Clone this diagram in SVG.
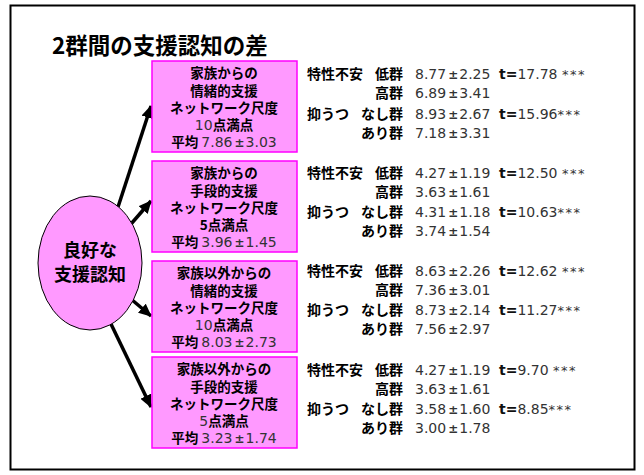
<svg xmlns="http://www.w3.org/2000/svg" width="644" height="475" viewBox="0 0 644 475">
<defs>
<style>
.jp{font-family:"Noto Sans CJK JP","Noto Sans CJK SC",sans-serif;font-weight:bold;fill:#000}
.bx{font-size:13.5px;text-anchor:middle}
.lb{font-size:14px}
.r{text-anchor:end}
.n{font-family:"DejaVu Sans","Liberation Sans",sans-serif;font-weight:normal;fill:#333;font-size:14px}
.pm{font-weight:bold;font-size:12px}
.t{font-family:"DejaVu Sans",sans-serif;font-weight:bold;fill:#111;font-size:14px}
.st{font-family:"DejaVu Sans",sans-serif;fill:#333;font-size:13px;letter-spacing:1.5px}
.box{fill:#FF99FF;stroke:#FF00FF;stroke-width:1.5}
.arr{stroke:#000;stroke-width:3.5;fill:none}
</style>
<marker id="ah" markerUnits="userSpaceOnUse" markerWidth="14" markerHeight="12" refX="12" refY="6" orient="auto">
<path d="M0,0 L13,6 L0,12 z" fill="#000"/>
</marker>
</defs>
<rect x="0" y="0" width="644" height="475" fill="#fff"/>
<rect x="10.5" y="5.5" width="624" height="464" fill="none" stroke="#000" stroke-width="2"/>
<text x="52" y="54" class="jp" font-size="22.5">2群間の支援認知の差</text>

<g id="connectors">
<line class="arr" x1="118" y1="207" x2="151" y2="106" marker-end="url(#ah)"/>
<line class="arr" x1="131" y1="224" x2="151" y2="201" marker-end="url(#ah)"/>
<line class="arr" x1="131" y1="299" x2="151" y2="316" marker-end="url(#ah)"/>
<line class="arr" x1="111" y1="324" x2="151" y2="407" marker-end="url(#ah)"/>
</g>

<g id="center">
<ellipse cx="90" cy="263" rx="52" ry="67" fill="#FF99FF" stroke="#000" stroke-width="1"/>
<text x="90" y="257" class="jp" font-size="18" text-anchor="middle">良好な</text>
<text x="90" y="281" class="jp" font-size="18" text-anchor="middle">支援認知</text>
</g>

<g id="box1">
<rect class="box" x="152" y="61" width="145" height="91"/>
<text class="jp bx" x="224" y="78">家族からの</text>
<text class="jp bx" x="224" y="96">情緒的支援</text>
<text class="jp bx" x="224" y="113">ネットワーク尺度</text>
<text class="jp bx" x="224" y="130"><tspan class="n">10</tspan>点満点</text>
<text class="jp bx" x="224" y="147">平均 <tspan class="n">7.86<tspan class="pm" dx="2">±</tspan><tspan dx="1">3.03</tspan></tspan></text>
</g>
<g id="stats1">
<text class="jp lb" x="307" y="79">特性不安</text>
<text class="jp lb r" x="403" y="79">低群</text>
<text class="n" x="415" y="79">8.77<tspan class="pm" dx="2">±</tspan><tspan dx="1">2.25</tspan></text>
<text x="499" y="79"><tspan class="t">t=</tspan><tspan class="n">17.78 </tspan><tspan class="st">***</tspan></text>
<text class="jp lb r" x="403" y="98">高群</text>
<text class="n" x="415" y="98">6.89<tspan class="pm" dx="2">±</tspan><tspan dx="1">3.41</tspan></text>
<text class="jp lb" x="307" y="119">抑うつ</text>
<text class="jp lb r" x="403" y="119">なし群</text>
<text class="n" x="415" y="119">8.93<tspan class="pm" dx="2">±</tspan><tspan dx="1">2.67</tspan></text>
<text x="499" y="119"><tspan class="t">t=</tspan><tspan class="n">15.96</tspan><tspan class="st">***</tspan></text>
<text class="jp lb r" x="403" y="138">あり群</text>
<text class="n" x="415" y="138">7.18<tspan class="pm" dx="2">±</tspan><tspan dx="1">3.31</tspan></text>
</g>

<g id="box2">
<rect class="box" x="152" y="161" width="145" height="91"/>
<text class="jp bx" x="224" y="178">家族からの</text>
<text class="jp bx" x="224" y="196">手段的支援</text>
<text class="jp bx" x="224" y="213">ネットワーク尺度</text>
<text class="jp bx" x="224" y="230">5点満点</text>
<text class="jp bx" x="224" y="247">平均 <tspan class="n">3.96<tspan class="pm" dx="2">±</tspan><tspan dx="1">1.45</tspan></tspan></text>
</g>
<g id="stats2">
<text class="jp lb" x="307" y="178">特性不安</text>
<text class="jp lb r" x="403" y="178">低群</text>
<text class="n" x="415" y="178">4.27<tspan class="pm" dx="2">±</tspan><tspan dx="1">1.19</tspan></text>
<text x="499" y="178"><tspan class="t">t=</tspan><tspan class="n">12.50 </tspan><tspan class="st">***</tspan></text>
<text class="jp lb r" x="403" y="197">高群</text>
<text class="n" x="415" y="197">3.63<tspan class="pm" dx="2">±</tspan><tspan dx="1">1.61</tspan></text>
<text class="jp lb" x="307" y="217">抑うつ</text>
<text class="jp lb r" x="403" y="217">なし群</text>
<text class="n" x="415" y="217">4.31<tspan class="pm" dx="2">±</tspan><tspan dx="1">1.18</tspan></text>
<text x="499" y="217"><tspan class="t">t=</tspan><tspan class="n">10.63</tspan><tspan class="st">***</tspan></text>
<text class="jp lb r" x="403" y="236">あり群</text>
<text class="n" x="415" y="236">3.74<tspan class="pm" dx="2">±</tspan><tspan dx="1">1.54</tspan></text>
</g>

<g id="box3">
<rect class="box" x="152" y="261" width="145" height="91"/>
<text class="jp bx" x="224" y="278">家族以外からの</text>
<text class="jp bx" x="224" y="296">情緒的支援</text>
<text class="jp bx" x="224" y="313">ネットワーク尺度</text>
<text class="jp bx" x="224" y="330"><tspan class="n">10</tspan>点満点</text>
<text class="jp bx" x="224" y="347">平均 <tspan class="n">8.03<tspan class="pm" dx="2">±</tspan><tspan dx="1">2.73</tspan></tspan></text>
</g>
<g id="stats3">
<text class="jp lb" x="307" y="276">特性不安</text>
<text class="jp lb r" x="403" y="276">低群</text>
<text class="n" x="415" y="276">8.63<tspan class="pm" dx="2">±</tspan><tspan dx="1">2.26</tspan></text>
<text x="499" y="276"><tspan class="t">t=</tspan><tspan class="n">12.62 </tspan><tspan class="st">***</tspan></text>
<text class="jp lb r" x="403" y="295">高群</text>
<text class="n" x="415" y="295">7.36<tspan class="pm" dx="2">±</tspan><tspan dx="1">3.01</tspan></text>
<text class="jp lb" x="307" y="315">抑うつ</text>
<text class="jp lb r" x="403" y="315">なし群</text>
<text class="n" x="415" y="315">8.73<tspan class="pm" dx="2">±</tspan><tspan dx="1">2.14</tspan></text>
<text x="499" y="315"><tspan class="t">t=</tspan><tspan class="n">11.27</tspan><tspan class="st">***</tspan></text>
<text class="jp lb r" x="403" y="334">あり群</text>
<text class="n" x="415" y="334">7.56<tspan class="pm" dx="2">±</tspan><tspan dx="1">2.97</tspan></text>
</g>

<g id="box4">
<rect class="box" x="152" y="357" width="145" height="91"/>
<text class="jp bx" x="224" y="374">家族以外からの</text>
<text class="jp bx" x="224" y="392">手段的支援</text>
<text class="jp bx" x="224" y="409">ネットワーク尺度</text>
<text class="jp bx" x="224" y="426"><tspan class="n">5</tspan>点満点</text>
<text class="jp bx" x="224" y="443">平均 <tspan class="n">3.23<tspan class="pm" dx="2">±</tspan><tspan dx="1">1.74</tspan></tspan></text>
</g>
<g id="stats4">
<text class="jp lb" x="307" y="375">特性不安</text>
<text class="jp lb r" x="403" y="375">低群</text>
<text class="n" x="415" y="375">4.27<tspan class="pm" dx="2">±</tspan><tspan dx="1">1.19</tspan></text>
<text x="499" y="375"><tspan class="t">t=</tspan><tspan class="n">9.70 </tspan><tspan class="st">***</tspan></text>
<text class="jp lb r" x="403" y="394">高群</text>
<text class="n" x="415" y="394">3.63<tspan class="pm" dx="2">±</tspan><tspan dx="1">1.61</tspan></text>
<text class="jp lb" x="307" y="414">抑うつ</text>
<text class="jp lb r" x="403" y="414">なし群</text>
<text class="n" x="415" y="414">3.58<tspan class="pm" dx="2">±</tspan><tspan dx="1">1.60</tspan></text>
<text x="499" y="414"><tspan class="t">t=</tspan><tspan class="n">8.85</tspan><tspan class="st">***</tspan></text>
<text class="jp lb r" x="403" y="433">あり群</text>
<text class="n" x="415" y="433">3.00<tspan class="pm" dx="2">±</tspan><tspan dx="1">1.78</tspan></text>
</g>
</svg>
